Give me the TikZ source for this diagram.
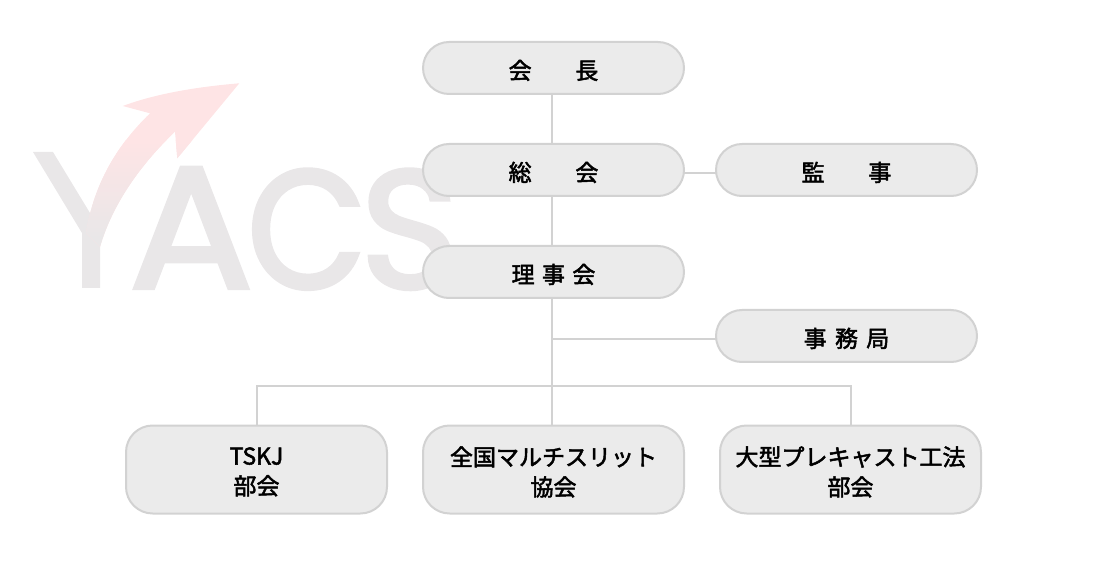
\documentclass[tikz,border=0pt]{standalone}
\usepackage{fontspec}
\setmainfont{Noto Sans CJK JP}[FakeBold=2.2]
\newfontfamily\logofont{Poppins}[FakeBold=2.5]
\usetikzlibrary{calc}
\definecolor{boxfill}{HTML}{EBEBEB}
\definecolor{boxline}{HTML}{D2D2D2}
\definecolor{wmgrey}{HTML}{E9E7E8}
\definecolor{wmpink}{HTML}{FEE4E5}
\newcommand{\lift}[1]{\raisebox{-1.8pt}[\height][\depth]{#1}}
\newcommand{\arrowpath}{(239.3,83.3) .. controls (195,87) and (155,94) .. (122.7,106)
  -- (150,113.3) .. controls (112,150) and (93,190) .. (86,233)
  -- (100,247) .. controls (112,205) and (140,165) .. (175,131.7)
  -- (177.3,158.3) -- cycle}
\tikzset{
  x=0.75pt,y=-0.75pt,
  pill/.style={draw=boxline,fill=boxfill,line width=1.5pt,rounded corners=19.5pt,minimum width=195.75pt,minimum height=39pt,inner sep=0pt,outer sep=0pt,text=black,font=\fontsize{17.25pt}{22.5pt}\selectfont,align=center},
  tall/.style={pill,minimum height=66pt,rounded corners=20pt},
  link/.style={draw=boxline,line width=1.5pt},
  wm/.style={text=wmgrey,inner sep=0pt,anchor=base west}
}
\begin{document}
\begin{tikzpicture}
\useasboundingbox (0,0) rectangle (1100,570);
% watermark
\fill[wmgrey] (33,152) -- (53,152) -- (90,213) -- (100,247) -- (100,288) -- (82,288) -- (82,233) -- cycle;
\node[wm,xscale=1.06,font=\logofont\fontsize{130pt}{130pt}\selectfont] (wma) at (129,288) {A};
\node[wm,xscale=.92,font=\logofont\fontsize{126pt}{126pt}\selectfont] (wmc) at (247,288) {C};
\node[wm,font=\logofont\fontsize{126pt}{126pt}\selectfont] (wms) at (360,288) {S};
\fill[wmpink] \arrowpath;
\begin{scope}
\clip \arrowpath;
\foreach \i in {0,...,29}{
  \pgfmathsetmacro{\p}{min(100,\i*100/24)}
  \fill[wmgrey!\p!wmpink] (60,{140+\i*4}) rectangle (200,{144.5+\i*4});
}
\end{scope}
% nodes
\node[pill] (kaicho) at (553.5,68) {\lift{会\hspace{1.9em}長}};
\node[pill] (sokai) at (553.5,170) {\lift{総\hspace{1.9em}会}};
\node[pill] (kansa) at (846.5,170) {\lift{監\hspace{1.9em}事}};
\node[pill] (riji) at (553.5,272) {\lift{理\hspace{.32em}事\hspace{.32em}会}};
\node[pill] (jimu) at (846.5,336) {\lift{事\hspace{.36em}務\hspace{.36em}局}};
\node[tall] (tskj) at (256.5,469.5) {\lift{TSKJ}\\\lift{部会}};
\node[tall] (zenkoku) at (553.5,469.5) {\lift{全国マルチスリット}\\\lift{協会}};
\node[tall] (ogata) at (850.5,469.5) {\lift{大型プレキャスト工法}\\\lift{部会}};
% connectors
\coordinate (trunk) at (552,339);
\coordinate (bus) at (552,386);
\coordinate (side) at (700,173);
\draw[link] (kaicho.south -| trunk) -- (sokai.north -| trunk);
\draw[link] (sokai.south -| trunk) -- (riji.north -| trunk);
\draw[link] (riji.south -| trunk) -- (zenkoku.north -| trunk);
\draw[link] (sokai.east |- side) -- (kansa.west |- side);
\draw[link] (trunk) -- (jimu.west |- trunk);
\draw[link] (tskj.north) -- (tskj.north |- bus) -- (ogata.north |- bus) -- (ogata.north);
\end{tikzpicture}
\end{document}
